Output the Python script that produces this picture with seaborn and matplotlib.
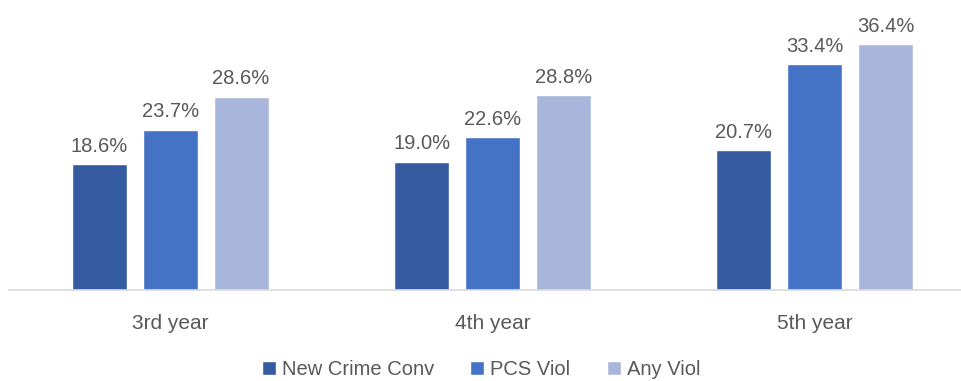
import pandas as pd
import matplotlib
matplotlib.use("Agg")
import matplotlib.pyplot as plt
import seaborn as sns

# ------------------------------
# Data
# ------------------------------
years = ["3rd year", "4th year", "5th year"]
series = ["New Crime Conv", "PCS Viol", "Any Viol"]
new_crime = [18.6, 19.0, 20.7]
pcs_viol = [23.7, 22.6, 33.4]
any_viol = [28.6, 28.8, 36.4]
colors = ["#345BA0", "#4472C4", "#A8B6DB"]

df = pd.DataFrame({
    "year": years * 3,
    "series": [series[0]] * 3 + [series[1]] * 3 + [series[2]] * 3,
    "pct": new_crime + pcs_viol + any_viol,
})

# ------------------------------
# Plot
# ------------------------------
sns.set_style("white")
plt.rcParams["font.family"] = ["Liberation Sans", "DejaVu Sans"]

fig = plt.figure(figsize=(9.62, 3.81), dpi=100)
ax = fig.add_axes([9 / 962, 91 / 381, 967 / 962, 290 / 381])

sns.barplot(data=df, x="year", y="pct", hue="series", hue_order=series,
            palette=colors, width=0.66, gap=0.225, saturation=1,
            legend=True, ax=ax)

for c in ax.containers:
    ax.bar_label(c, fmt="%.1f%%", padding=6, fontsize=14.5, color="#595959")

ax.set_xlim(-0.5, 2.5)
ax.set_ylim(0, 42.9)
ax.set_xlabel("")
ax.set_ylabel("")
ax.set_yticks([])
ax.tick_params(axis="x", length=0, pad=17, labelsize=15, labelcolor="#595959")
for s in ["top", "left", "right"]:
    ax.spines[s].set_visible(False)
ax.spines["bottom"].set_color("#D9D9D9")
ax.spines["bottom"].set_linewidth(1.2)

handles, labels = ax.get_legend_handles_labels()
ax.get_legend().remove()
fig.legend(handles, labels, loc="lower center", bbox_to_anchor=(0.5, -0.042),
           ncol=3, frameon=False, fontsize=14.5, labelcolor="#595959",
           handlelength=0.7, handleheight=0.7, handletextpad=0.3,
           columnspacing=1.8)

fig.savefig("out.png", dpi=100)
